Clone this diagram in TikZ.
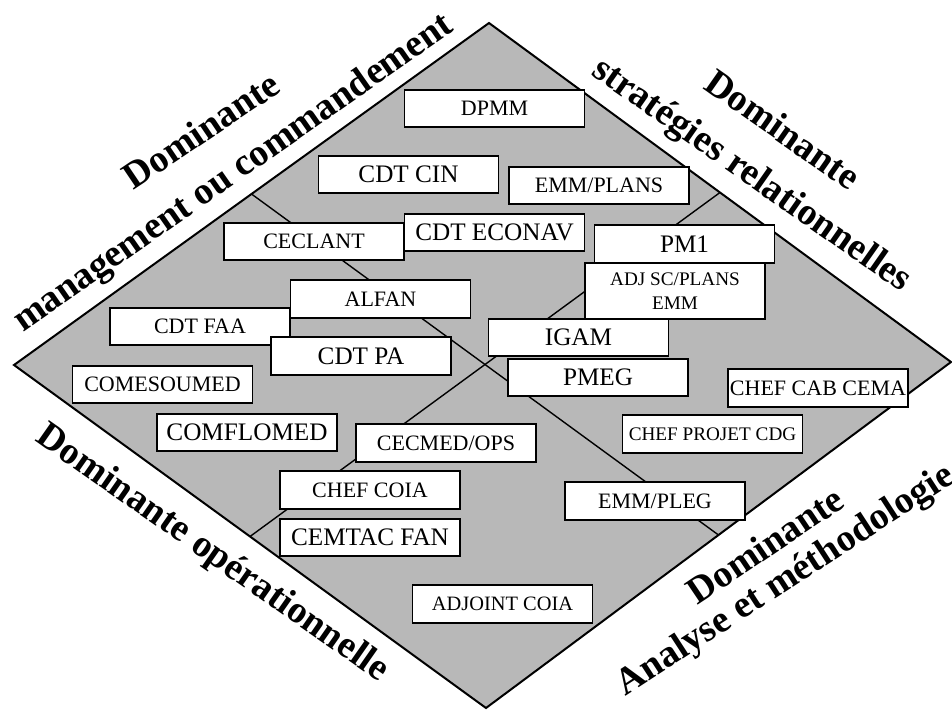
\documentclass[tikz,border=0pt]{standalone}
\usepackage{fontspec}
\setmainfont{Liberation Serif}
\usetikzlibrary{calc}

\begin{document}
\begin{tikzpicture}[x=0.5pt,y=-0.5pt]
  \tikzstyle{every node}=[inner sep=0pt]
  \tikzstyle{poste}=[draw,line width=0.8pt,fill=white,minimum width=90pt,minimum height=18.75pt,align=center]
  \tikzstyle{gros}=[poste,font=\fontsize{12.6}{14}\selectfont]
  \tikzstyle{moyen}=[poste,font=\fontsize{11}{13}\selectfont]
  \tikzstyle{petit}=[poste,font=\fontsize{9.6}{12}\selectfont]
  \tikzstyle{dominante}=[font=\fontsize{19}{22}\selectfont\bfseries]

  \useasboundingbox (0,0) rectangle (952,712);

  % le losange
  \coordinate (haut)   at (489,23);
  \coordinate (droite) at (951,362);
  \coordinate (bas)    at (486,708);
  \coordinate (gauche) at (14,365);
  \coordinate (mhg) at ($(haut)!0.5!(gauche)$);
  \coordinate (mbd) at ($(bas)!0.5!(droite)$);
  \coordinate (mbg) at ($(bas)!0.5!(gauche)$);
  \coordinate (mhd) at ($(haut)!0.5!(droite)$);

  \draw[line width=1pt,fill=black!28] (haut) -- (droite) -- (bas) -- (gauche) -- cycle;
  \draw[line width=0.7pt] (mhg) -- (mbd);
  \draw[line width=0.7pt] (mbg) -- (mhd);

  % les postes
  \node[moyen] (dpmm)     at (494.5,108.5) {DPMM};
  \node[gros]  (cdtcin)   at (408.5,174.5) {CDT CIN};
  \node[moyen] (emmplans) at (599,185.5)   {EMM/PLANS};
  \node[moyen] (ceclant)  at (314,241.5)   {CECLANT};
  \node[gros]  (econav)   at (494.5,232.5) {CDT ECONAV};
  \node[gros]  (pm1)      at (684.5,244)   {PM1};
  \node[petit,minimum height=28pt] (adjsc) at (675,291) {ADJ SC/PLANS\\EMM};
  \node[moyen] (alfan)    at (380.5,299)   {ALFAN};
  \node[moyen] (cdtfaa)   at (200,326.5)   {CDT FAA};
  \node[gros]  (cdtpa)    at (361,356)     {CDT PA};
  \node[gros]  (igam)     at (578.5,337.5) {IGAM};
  \node[gros]  (pmeg)     at (598,377.5)   {PMEG};
  \node[moyen] (cabcema)  at (818,388)     {CHEF CAB CEMA};
  \node[moyen] (comesou)  at (162.5,384.5) {COMESOUMED};
  \node[gros]  (comflo)   at (247,432.5)   {COMFLOMED};
  \node[moyen] (cecmed)   at (446,443)     {CECMED/OPS};
  \node[petit] (projet)   at (712.5,434)   {CHEF PROJET CDG};
  \node[moyen] (coia)     at (370,490)     {CHEF COIA};
  \node[gros]  (cemtac)   at (370,537.5)   {CEMTAC FAN};
  \node[moyen] (emmpleg)  at (655,501)     {EMM/PLEG};
  \node[petit,font=\fontsize{10.2}{12}\selectfont] (adjcoia) at (502.5,604) {ADJOINT COIA};

  % les dominantes
  \node[dominante,rotate=34]  (dmgt)  at (201,130) {Dominante};
  \node[dominante,rotate=35]  (mgt)   at (234,174) {management ou commandement};
  \node[dominante,rotate=-35] (dstr)  at (783,129) {Dominante};
  \node[dominante,rotate=-35] (strat) at (751,176) {stratégies relationnelles};
  \node[dominante,rotate=-35] (ops)   at (212,554) {Dominante opérationnelle};
  \node[dominante,rotate=34]  (dana)  at (765,545) {Dominante};
  \node[dominante,rotate=33]  (ana)   at (786,581) {Analyse et méthodologie};
\end{tikzpicture}
\end{document}
